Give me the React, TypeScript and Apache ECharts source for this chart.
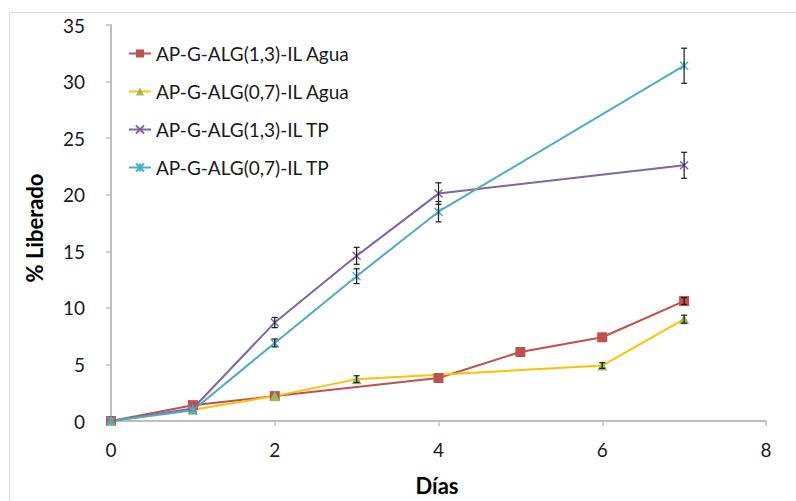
import React, { useEffect, useRef } from "react";
import * as echarts from "echarts";

const seriesNames = [
  "AP-G-ALG(1,3)-IL Agua",
  "AP-G-ALG(0,7)-IL Agua",
  "AP-G-ALG(1,3)-IL TP",
  "AP-G-ALG(0,7)-IL TP",
];

const redX = [0, 1, 2, 4, 5, 6, 7];
const redY = [0, 1.4, 2.2, 3.8, 6.1, 7.4, 10.6];
const redErr = [0, 0, 0, 0, 0, 0, 0.3];

const yellowX = [0, 1, 2, 3, 6, 7];
const yellowY = [0, 1.0, 2.2, 3.7, 4.9, 9.0];
const yellowErr = [0, 0, 0, 0.3, 0.25, 0.35];

const purpleX = [0, 1, 2, 3, 4, 7];
const purpleY = [0, 1.1, 8.7, 14.6, 20.1, 22.6];
const purpleErr = [0, 0, 0.45, 0.75, 0.95, 1.15];

const cyanX = [0, 1, 2, 3, 4, 7];
const cyanY = [0, 0.95, 6.9, 12.8, 18.5, 31.4];
const cyanErr = [0, 0, 0.35, 0.65, 0.9, 1.55];

const FONT = "Lato, 'Liberation Sans', sans-serif";

const pairs = (xs: number[], ys: number[]) => xs.map((x, i) => [x, ys[i]]);
const errRows = (xs: number[], ys: number[], es: number[]) =>
  xs
    .map((x, i) => [x, ys[i] - es[i], ys[i] + es[i]])
    .filter((_, i) => es[i] > 0);

export default function App() {
  const ref = useRef<HTMLDivElement>(null);
  useEffect(() => {
    document.body.style.margin = "0";
    if (!ref.current) return;
    const chart = echarts.init(ref.current, undefined, { renderer: "svg" });

    const lineSeries = (
      name: string,
      xs: number[],
      ys: number[],
      lineColor: string,
      markColor: string,
      symbol: string,
      size: number,
      stroke: boolean
    ) => ({
      type: "line",
      name,
      data: pairs(xs, ys),
      color: lineColor,
      symbol,
      symbolSize: size,
      showAllSymbol: true,
      lineStyle: { color: lineColor, width: 2 },
      itemStyle: stroke
        ? { color: "rgba(0,0,0,0)", borderColor: markColor, borderWidth: 1.5 }
        : { color: markColor, borderWidth: 0 },
      z: 3,
    });

    const errSeries = (xs: number[], ys: number[], es: number[]) => ({
      type: "custom",
      data: errRows(xs, ys, es),
      z: 5,
      silent: true,
      renderItem: (_p: any, api: any) => {
        const x = api.value(0);
        const lo = api.coord([x, api.value(1)]);
        const hi = api.coord([x, api.value(2)]);
        const w = 3;
        const style = { stroke: "#1a1a1a", lineWidth: 1.2 };
        return {
          type: "group",
          children: [
            { type: "line", shape: { x1: lo[0], y1: lo[1], x2: hi[0], y2: hi[1] }, style },
            { type: "line", shape: { x1: lo[0] - w, y1: lo[1], x2: lo[0] + w, y2: lo[1] }, style },
            { type: "line", shape: { x1: hi[0] - w, y1: hi[1], x2: hi[0] + w, y2: hi[1] }, style },
          ],
        };
      },
    });

    chart.setOption({
      animation: false,
      backgroundColor: "#ffffff",
      grid: {
        left: 111,
        right: 30,
        top: 25,
        bottom: 80,
        containLabel: false,
        outerBoundsMode: "none",
      },
      legend: {
        orient: "vertical",
        left: 128,
        top: 42,
        padding: 0,
        itemGap: 15,
        itemWidth: 22,
        itemHeight: 10,
        data: seriesNames,
        textStyle: { fontFamily: FONT, fontSize: 19, color: "#1a1a1a", lineHeight: 23 },
      },
      xAxis: {
        type: "value",
        min: 0,
        max: 8,
        interval: 2,
        splitLine: { show: false },
        axisLine: { show: true, lineStyle: { color: "#bfbfbf", width: 2 } },
        axisTick: { show: true, length: 5, lineStyle: { color: "#bfbfbf", width: 1.5 } },
        axisLabel: { fontFamily: FONT, fontSize: 19, color: "#1a1a1a", margin: 19 },
      },
      yAxis: {
        type: "value",
        min: 0,
        max: 35,
        interval: 5,
        splitLine: { show: false },
        axisLine: { show: true, lineStyle: { color: "#bfbfbf", width: 2 } },
        axisTick: { show: true, length: 5, inside: false, lineStyle: { color: "#bfbfbf", width: 1.5 } },
        axisLabel: { fontFamily: FONT, fontSize: 19, color: "#1a1a1a", margin: 26 },
      },
      graphic: [
        {
          type: "rect",
          left: 7,
          top: 10,
          shape: { width: 820, height: 620 },
          style: { fill: "none", stroke: "#d9d9d9", lineWidth: 1 },
          silent: true,
          z: -10,
        },
        {
          type: "text",
          x: 34,
          y: 228,
          rotation: Math.PI / 2,
          style: {
            text: "% Liberado",
            fontFamily: FONT,
            fontSize: 22,
            fontWeight: "bold",
            fill: "#000000",
            textAlign: "center",
            textVerticalAlign: "middle",
          },
        },
        {
          type: "text",
          x: 437,
          y: 485,
          style: {
            text: "Días",
            fontFamily: FONT,
            fontSize: 22,
            fontWeight: "bold",
            fill: "#000000",
            textAlign: "center",
            textVerticalAlign: "middle",
          },
        },
      ],
      series: [
        lineSeries(seriesNames[0], redX, redY, "#c0504d", "#c0504d", "rect", 10, false),
        lineSeries(seriesNames[1], yellowX, yellowY, "#ffc000", "#9bbb59", "triangle", 10, false),
        lineSeries(
          seriesNames[2],
          purpleX,
          purpleY,
          "#8064a2",
          "#8064a2",
          "path://M0,0L10,10M10,0L0,10",
          8,
          true
        ),
        lineSeries(
          seriesNames[3],
          cyanX,
          cyanY,
          "#4bacc6",
          "#4bacc6",
          "path://M0,0L10,10M10,0L0,10M5,0L5,10",
          8,
          true
        ),
        errSeries(redX, redY, redErr),
        errSeries(yellowX, yellowY, yellowErr),
        errSeries(purpleX, purpleY, purpleErr),
        errSeries(cyanX, cyanY, cyanErr),
      ],
    });
    return () => chart.dispose();
  }, []);
  return <div ref={ref} style={{ width: 796, height: 501 }} />;
}
